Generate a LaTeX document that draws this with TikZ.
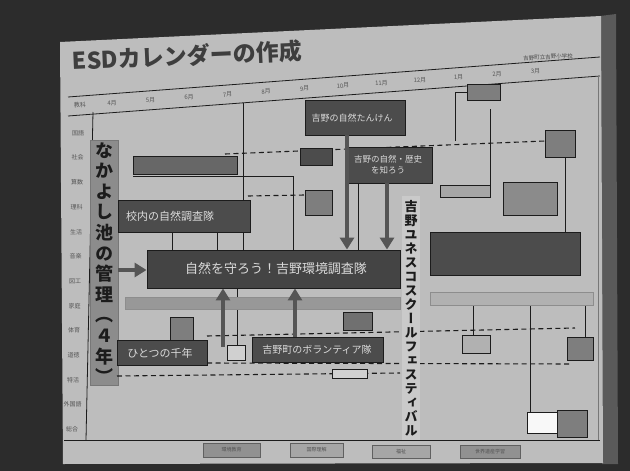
\documentclass[tikz,border=0pt]{standalone}
\usepackage{fontspec}
\newfontfamily\jp{Noto Sans CJK JP}
\newfontfamily\jpv[RawFeature=+vert]{Noto Sans CJK JP}
\usetikzlibrary{arrows.meta,fit}
\definecolor{bgc}{HTML}{2C2C2C}
\definecolor{edge}{HTML}{5A5A5A}
\definecolor{slide}{HTML}{BDBDBD}
\definecolor{dk}{HTML}{4C4C4C}
\definecolor{md}{HTML}{7E7E7E}
\definecolor{lt}{HTML}{D0D0D0}
\definecolor{stripc}{HTML}{8C8C8C}
\definecolor{ink}{HTML}{1C1C1C}
\definecolor{txtl}{HTML}{DADADA}
\definecolor{arr}{HTML}{555555}
\begin{document}
\begin{tikzpicture}[x=1pt,y=-1pt,
  frame/.style={draw=ink, line width=0.9pt, inner sep=0pt},
  dkbox/.style={frame, fill=dk},
  mdbox/.style={frame, fill=md},
  ltbox/.style={frame, fill=lt},
  boxtxt/.style={text=txtl, inner sep=0pt, align=center},
  thinl/.style={draw=ink, line width=0.8pt},
  dline/.style={draw=ink, line width=1.1pt, dash pattern=on 5pt off 3.5pt},
  bigarrow/.style={draw=arr, line width=4pt, -{Triangle[length=12pt,width=14pt]}},
  lbl/.style={font=\jp\fontsize{6}{6}\selectfont, text=ink!75, inner sep=0pt},
  btn/.style={draw=ink!70, line width=0.6pt, fill=#1, inner sep=0pt, font=\jp\fontsize{5}{5}\selectfont, text=ink},
]
\useasboundingbox (0,0) rectangle (630,471);
% photo background and slide
\fill[bgc] (0,0) rectangle (630,471);
\fill[edge] (600,16) -- (616,14) -- (618,464) -- (602,464) -- cycle;
\fill[slide] (60,42) -- (601,16) -- (603,463) -- (63,464) -- cycle;

% title
\node[font=\jp\bfseries\fontsize{23}{24}\selectfont, text=ink!85, anchor=west, rotate=2.5, inner sep=0] (title) at (72,61) {ESDカレンダーの作成};
\node[font=\jp\fontsize{5.5}{6}\selectfont, text=ink!80, rotate=3, inner sep=0] (school) at (548,57) {吉野町立吉野小学校};

% table frame and header
\draw[thinl] (68,97) -- (600,57);
\draw[thinl] (68,116) -- (600,76);
\draw[thinl] (93,112) -- (86,440);
\draw[thinl] (64,440) -- (600,440);
\draw[draw=ink!60, line width=0.5pt] (598,76) -- (598,440);
\node[lbl, rotate=4.3] (hd) at (80,105) {教科};
\foreach \m [count=\i from 0] in {4月,5月,6月,7月,8月,9月,10月,11月,12月,1月,2月,3月}{
  \pgfmathsetmacro\xx{112+38.5*\i}
  \pgfmathsetmacro\yy{106.5-0.075*(\xx-68)}
  \node[lbl, rotate=4.3] (m\i) at (\xx,\yy) {\m};
}
\foreach \s [count=\i from 0] in {国語,社会,算数,理科,生活,音楽,図工,家庭,体育,道徳,特活,外国語,総合}{
  \node[lbl] (s\i) at ({78-0.02*24.7*\i},{133+24.7*\i}) {\s};
}

% helper coordinates
\coordinate (x243) at (243,103);
\coordinate (x293) at (293,176);
\coordinate (c130) at (133,176);
\coordinate (x347) at (347,0);
\coordinate (x358) at (358,0);
\coordinate (x387) at (387,0);
\coordinate (x295) at (295,0);
\coordinate (x172) at (172,0);
\coordinate (x217) at (217,0);
\coordinate (x237) at (237,0);
\coordinate (h490) at (490,109);
\coordinate (x455) at (455,141);
\coordinate (x565) at (565,0);
\coordinate (x473) at (473,0);
\coordinate (x530) at (530,0);
\coordinate (x585) at (585,0);
\coordinate (ua1) at (223,347);
\coordinate (y270) at (0,270);

% left vertical strip
\node[fill=stripc, draw=ink!60, line width=0.6pt, inner sep=0pt, fit={(90,140) (118,385)}] (strip) {};
\node[font=\jpv\bfseries\fontsize{18}{20.6}\selectfont, text=ink, align=center, inner sep=0pt] (naka) at (104,263)
  {な\\か\\よ\\し\\池\\の\\管\\理\\（\\４\\年\\）};

% thin connecting lines (behind boxes)
\draw[thinl] (x243) -- (243,252);
\draw[thinl] (c130) -- (x293) -- (293,252);
\draw[thinl] (h490) -- (490,185);
\draw[thinl] (x455) |- (467,92);
\draw[thinl] (565,157) -- (565,232);
\draw[thinl] (172,232) -- (172,252);
\draw[thinl] (217,232) -- (217,252);
\draw[thinl] (237,288) -- (237,345);
\draw[thinl] (358,183) -- (358,252);
\draw[thinl] (473,305) -- (473,335);
\draw[thinl] (530,305) -- (530,412);
\draw[thinl] (585,305) -- (585,337);

% dashed lines
\draw[dline] (225,154) -- (545,141);
\draw[dline] (248,196) -- (305,195);
\draw[dline] (207,336) -- (575,328);
\draw[dline] (207,363) -- (572,364);
\draw[dline] (117,376) -- (400,373);

% boxes
\node[mdbox, fill=dk!85, fit={(133,156) (237,174)}] (b0) {};
\node[dkbox, fit={(118,200) (250,232)}] (kounai) {};
\node[boxtxt, font=\jp\fontsize{11}{12}\selectfont] (kounait) at (170,216) {校内の自然調査隊};
\node[dkbox, fit={(305,100) (405,135)}] (topb) {};
\node[boxtxt, font=\jp\fontsize{9}{10}\selectfont] (topbt) at (352,118) {吉野の自然たんけん};
\node[dkbox, fit={(345,147) (432,183)}] (two) {};
\node[boxtxt, font=\jp\fontsize{8.5}{11}\selectfont] (twot) at (388,165) {吉野の自然・歴史\\を知ろう};
\node[dkbox, fill=dk!90!black, fit={(147,250) (400,288)}] (big) {};
\node[boxtxt, font=\jp\fontsize{13}{14}\selectfont] (bigt) at (276,269) {自然を守ろう！吉野環境調査隊};
\node[dkbox, fit={(117,340) (207,365)}] (hito) {};
\node[boxtxt, font=\jp\fontsize{11}{12}\selectfont] (hitot) at (160,353) {ひとつの千年};
\node[dkbox, fit={(252,337) (383,362)}] (yoshi) {};
\node[boxtxt, font=\jp\fontsize{10}{11}\selectfont] (yoshit) at (317,350) {吉野町のボランティア隊};
\node[dkbox, fit={(430,232) (580,275)}] (rbig) {};

% bars
\node[fill=md!80, draw=ink!50, line width=0.5pt, inner sep=0pt, fit={(125,297) (400,309)}] (bar1) {};
\node[fill=lt!85!black, draw=ink!50, line width=0.5pt, inner sep=0pt, fit={(430,292) (593,305)}] (bar2) {};

% small boxes
\node[mdbox, fit={(170,317) (193,340)}] (s1) {};
\node[ltbox, fit={(227,345) (245,360)}] (s2) {};
\node[mdbox, fill=dk!80, fit={(343,312) (372,330)}] (s3) {};
\node[ltbox, fit={(332,369) (367,378)}] (s4) {};
\node[mdbox, fill=dk, fit={(300,148) (332,165)}] (s5) {};
\node[mdbox, fit={(305,190) (332,215)}] (s6) {};
\node[ltbox, fill=lt!80!black, fit={(440,185) (490,197)}] (s7) {};
\node[mdbox, fill=md!90, fit={(503,182) (557,215)}] (s8) {};
\node[ltbox, fill=lt!85!black, fit={(462,335) (490,353)}] (s9) {};
\node[mdbox, fit={(567,337) (593,360)}] (s10) {};
\node[mdbox, fit={(467,84) (500,100)}] (r1) {};
\node[mdbox, fit={(545,130) (575,157)}] (r2) {};
\node[ltbox, fill=white!85!lt, fit={(527,412) (557,433)}] (br1) {};
\node[mdbox, fit={(557,410) (587,437)}] (br2) {};

% big arrows
\draw[bigarrow] (topb.south -| x347) -- (big.north -| x347);
\draw[bigarrow] (two.south -| x387) -- (big.north -| x387);
\draw[bigarrow] (ua1) -- (big.south -| ua1);
\draw[bigarrow] (yoshi.north -| x295) -- (big.south -| x295);
\draw[bigarrow] (strip.east |- y270) -- (big.west |- y270);

% festival vertical text
\node[fill=lt!70!slide, inner sep=0pt, fit={(402,196) (420,440)}] (festbg) {};
\node[font=\jpv\bfseries\fontsize{13}{14}\selectfont, text=ink, align=center, inner sep=0pt] (fest) at (411,318)
  {吉\\野\\ユ\\ネ\\ス\\コ\\ス\\ク\\ー\\ル\\フ\\ェ\\ス\\テ\\ィ\\バ\\ル};

% bottom buttons
\node[btn=md!85, fit={(203,443) (260,457)}] (bt1) {};
\node[lbl, font=\jp\fontsize{5}{5}\selectfont] (bt1t) at (bt1) {環境教育};
\node[btn=lt!80!black, fit={(290,443) (343,457)}] (bt2) {};
\node[lbl, font=\jp\fontsize{5}{5}\selectfont] (bt2t) at (bt2) {国際理解};
\node[btn=lt!80!black, fit={(372,445) (430,458)}] (bt3) {};
\node[lbl, font=\jp\fontsize{5}{5}\selectfont] (bt3t) at (bt3) {福祉};
\node[btn=md!85, fit={(460,445) (520,458)}] (bt4) {};
\node[lbl, font=\jp\fontsize{5}{5}\selectfont] (bt4t) at (bt4) {世界遺産学習};
\end{tikzpicture}
\end{document}
